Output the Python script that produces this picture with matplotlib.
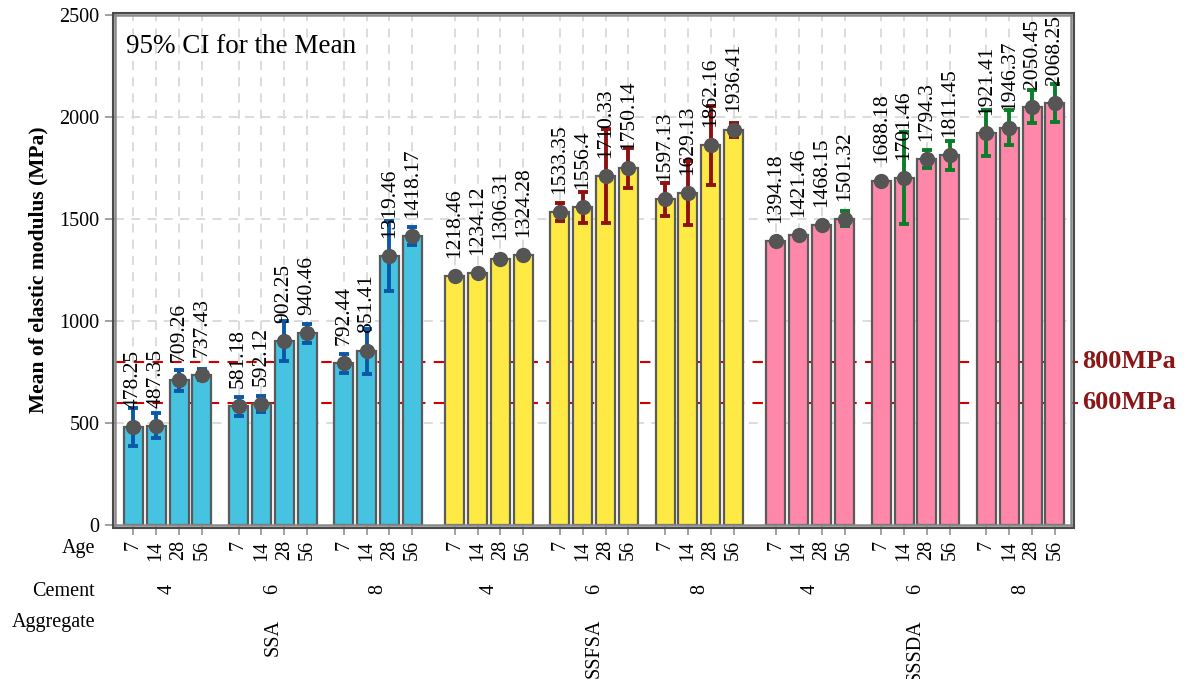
import matplotlib
matplotlib.use("Agg")
import matplotlib.pyplot as plt
import matplotlib.transforms as mtransforms
from matplotlib.patches import Rectangle
import numpy as np

plt.rcParams['font.family'] = ['Liberation Serif', 'DejaVu Serif']

# ---------------- data ----------------
aggregates = ['SSA', 'SSFSA', 'SSSDA']
cements = ['4', '6', '8']
ages = ['7', '14', '28', '56']

mean_ssa = [478.25, 487.35, 709.26, 737.43, 581.18, 592.12, 902.25, 940.46,
            792.44, 851.41, 1319.46, 1418.17]
ci_ssa = [93, 62, 51, 26, 47, 40, 96, 46, 45, 110, 172, 45]

mean_ssfsa = [1218.46, 1234.12, 1306.31, 1324.28, 1533.35, 1556.4, 1710.33, 1750.14,
              1597.13, 1629.13, 1862.16, 1936.41]
ci_ssfsa = [12, 8, 15, 6, 45, 78, 231, 98, 80, 157, 194, 36]

mean_sssda = [1394.18, 1421.46, 1468.15, 1501.32, 1688.18, 1701.46, 1794.3, 1811.45,
              1921.41, 1946.37, 2050.45, 2068.25]
ci_sssda = [5, 15, 8, 37, 10, 227, 44, 70, 115, 86, 80, 95]

ref_levels = [800, 600]
ref_labels = ['800MPa', '600MPa']

means = [mean_ssa, mean_ssfsa, mean_sssda]
cis = [ci_ssa, ci_ssfsa, ci_sssda]

bar_colors = ['#45c3e0', '#ffea45', '#ff87aa']
err_colors = ['#0b58a8', '#8e1212', '#0b7d2a']

# ---------------- layout ----------------
cement_gap = 0.6
agg_gap = 0.85
positions = []
x = 0.0
for a in range(len(aggregates)):
    for c in range(len(cements)):
        for k in range(len(ages)):
            positions.append(x)
            x += 1
        x += cement_gap
    x += agg_gap - cement_gap
positions = np.array(positions)

W, H = 1186, 679
fig = plt.figure(figsize=(W / 100, H / 100), dpi=100)
L, R, T, B = 115, 1071, 15, 525
ax = fig.add_axes([L / W, 1 - B / H, (R - L) / W, (B - T) / H])

# outer frame line (double border look)
o = 2.5
fig.patches.append(Rectangle(((L - o) / W, 1 - (B + o) / H), (R - L + 2 * o) / W,
                             (B - T + 2 * o) / H, transform=fig.transFigure,
                             fill=False, edgecolor='#4a4a4a', lw=1.5, zorder=10))

ax.set_xlim(positions[0] - 0.8, positions[-1] + 0.7)
ax.set_ylim(0, 2500)
ax.set_yticks([0, 500, 1000, 1500, 2000, 2500])

# grid
for p in positions:
    ax.axvline(p, color='#d9d9d9', lw=1.3, ls=(0, (5, 4)), zorder=0)
for yv in [500, 1000, 1500, 2000, 2500]:
    ax.axhline(yv, color='#d9d9d9', lw=1.3, ls=(0, (5, 4)), zorder=0)

n = len(ages) * len(cements)
for a in range(len(aggregates)):
    xs = positions[a * n:(a + 1) * n]
    m = np.array(means[a])
    e = np.array(cis[a])
    ax.bar(xs, m, width=0.83, color=bar_colors[a], edgecolor='#5a5a5a',
           linewidth=1.6, zorder=2)
    ax.errorbar(xs, m, yerr=e, fmt='none', ecolor=err_colors[a], elinewidth=2.8,
                capsize=3.5, capthick=2.8, zorder=3)
    ax.plot(xs, m, 'o', color='#555555', markersize=10, zorder=4)
    for xi, mi in zip(xs, m):
        ax.annotate(f'{mi:g}', (xi, mi), xytext=(0, 13), textcoords='offset points',
                    rotation=90, ha='center', va='bottom', fontsize=15.5, zorder=5)

# reference lines
for lv, lb in zip(ref_levels, ref_labels):
    ax.plot([0, 1.007], [lv, lv], transform=ax.get_yaxis_transform(),
            color='#d00000', lw=1.5, ls=(0, (5, 4)), clip_on=False, zorder=1)
    ax.text(1.0115, lv, lb, transform=ax.get_yaxis_transform(), color='#8c1515',
            fontsize=19, fontweight='bold', va='center', ha='left')

ax.text(0.012, 0.963, '95% CI for the Mean', transform=ax.transAxes,
        fontsize=19.5, va='top', ha='left')

# spines / ticks
for s in ax.spines.values():
    s.set_color('#8a8a8a')
    s.set_linewidth(1.8)
ax.tick_params(axis='both', colors='#9a9a9a', length=7, width=1.3, labelcolor='black',
               labelsize=14.5, pad=4)
ax.set_xticks(positions)
ax.set_xticklabels(ages * (len(aggregates) * len(cements)), rotation=90)
ax.set_ylabel('Mean of elastic modulus (MPa)', fontsize=15.5, fontweight='bold',
              labelpad=8)

# category rows
trans = mtransforms.blended_transform_factory(ax.transData, fig.transFigure)
for a in range(len(aggregates)):
    for c in range(len(cements)):
        idx = (a * len(cements) + c) * len(ages)
        cx = positions[idx:idx + len(ages)].mean()
        fig.text(cx, 1 - 589 / H, cements[c], transform=trans, rotation=90,
                 ha='center', va='center', fontsize=14.5)
    cx = positions[a * n:(a + 1) * n].mean()
    fig.text(cx, 1 - 619 / H, aggregates[a], transform=trans, rotation=90,
             ha='center', va='top', fontsize=14.5)

fig.text(95 / W, 1 - 548 / H, 'Age', ha='right', va='center', fontsize=14.5)
fig.text(95 / W, 1 - 592 / H, 'Cement', ha='right', va='center', fontsize=14.5)
fig.text(95 / W, 1 - 623 / H, 'Aggregate', ha='right', va='center', fontsize=14.5)

fig.savefig('out.png', dpi=100)
